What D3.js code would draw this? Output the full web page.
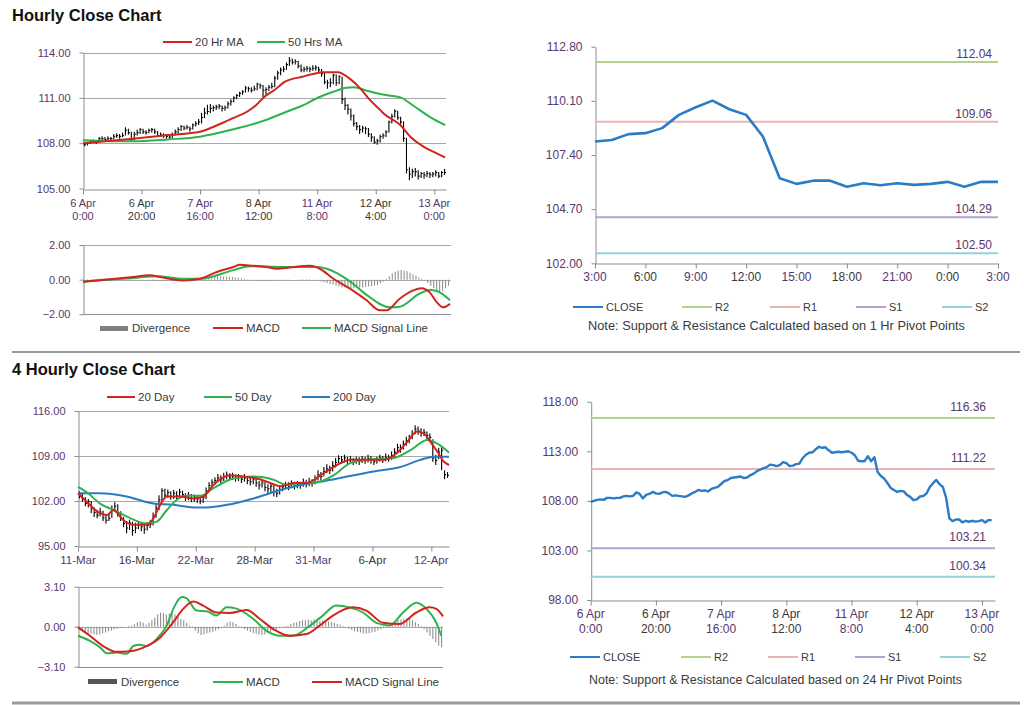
<!DOCTYPE html>
<html><head><meta charset="utf-8">
<script src="https://cdn.jsdelivr.net/npm/d3@7"></script>
<style>body{margin:0;background:#fff;}svg text{font-family:"Liberation Sans",Arial,sans-serif;}</style>
</head><body><script>
// ---------------- DATA ----------------
// Hourly bars (index 0 = 6 Apr 0:00 ... 123 = 13 Apr 3:00)
const hourlyClose = [
107.9,108.0,108.1,108.15,108.1,108.3,108.3,108.25,108.3,108.3,
108.45,108.5,108.45,108.5,108.85,108.7,108.25,108.6,108.7,108.9,
108.75,108.7,108.85,108.9,108.75,108.5,108.55,108.5,108.45,108.4,
108.55,108.75,108.9,109.1,109.0,109.05,108.95,109.2,109.3,109.4,
109.7,110.0,110.1,110.3,110.35,110.4,110.45,110.3,110.35,110.6,
110.75,111.0,111.15,111.3,111.4,111.65,111.6,111.5,111.6,111.9,
111.8,111.5,111.55,111.7,111.75,112.3,112.65,112.85,112.9,113.2,
113.45,113.35,113.4,113.1,112.85,112.9,112.95,112.9,112.95,113.0,
112.85,112.6,112.05,112.0,112.0,112.5,112.0,112.4,110.9,110.5,
110.25,109.8,109.3,109.1,108.9,109.0,108.95,108.6,108.4,108.07,
108.15,108.44,108.49,108.74,109.4,109.78,110.11,109.68,109.4,108.32,
106.24,105.96,106.12,106.12,105.82,105.99,105.89,105.99,105.91,105.96,
106.06,105.82,106.06,106.06];
const hourlyHigh = [
108.05,108.1,108.2,108.25,108.2,108.4,108.45,108.4,108.45,108.4,
108.6,108.65,108.6,108.7,109.05,108.95,108.75,108.75,108.9,109.0,
108.95,108.85,108.95,109.0,108.95,108.8,108.7,108.65,108.6,108.55,
108.7,108.9,109.05,109.2,109.15,109.2,109.1,109.3,109.45,109.6,
110.0,110.35,110.55,110.6,110.5,110.55,110.6,110.5,110.5,110.75,
110.9,111.1,111.25,111.4,111.5,111.8,111.75,111.7,111.8,112.0,
111.95,111.85,111.7,111.85,112.0,112.45,112.8,113.0,113.1,113.35,
113.7,113.6,113.55,113.45,113.2,113.05,113.1,113.05,113.15,113.15,
113.05,112.9,112.65,112.2,112.3,112.6,112.55,112.5,112.4,111.0,
110.6,110.3,109.9,109.4,109.2,109.15,109.1,109.0,108.65,108.45,
108.3,108.55,108.65,108.85,109.5,109.95,110.25,110.15,109.75,109.45,
108.35,106.4,106.3,106.35,106.2,106.1,106.1,106.15,106.1,106.1,
106.2,106.1,106.15,106.3];
const hourlyLow = [
107.8,107.85,107.95,108.0,107.95,108.05,108.2,108.1,108.15,108.2,
108.25,108.35,108.3,108.4,108.5,108.55,108.1,108.2,108.5,108.6,
108.6,108.55,108.65,108.7,108.6,108.4,108.4,108.35,108.3,108.3,
108.35,108.5,108.65,108.8,108.85,108.9,108.75,108.9,109.1,109.2,
109.3,109.65,109.9,110.0,110.1,110.2,110.25,110.1,110.15,110.3,
110.5,110.7,110.9,111.05,111.2,111.35,111.4,111.35,111.45,111.5,
111.6,111.0,111.2,111.45,111.6,111.7,112.2,112.5,112.7,112.85,
113.1,113.2,113.2,112.95,112.7,112.7,112.75,112.7,112.8,112.8,
112.65,112.4,111.9,111.6,111.7,111.9,111.8,111.9,110.6,110.2,
109.9,109.5,109.1,108.85,108.6,108.7,108.6,108.4,108.1,107.95,
107.9,108.05,108.3,108.4,108.7,109.3,109.7,109.55,109.2,108.1,
106.0,105.55,105.7,105.8,105.6,105.7,105.65,105.75,105.7,105.75,
105.8,105.7,105.75,105.9];
// moving averages read at [hour index, value]
const ma20Hr = [[0,108.0],[17,108.3],[29,108.54],[40,108.76],[46,109.2],[51,109.64],[56,110.08],[59,110.5],[62,111.07],[66,111.6],[69,112.07],[75,112.4],[79,112.6],[82,112.7],[87,112.7],[91,112.29],[94.7,111.63],[98,110.86],[101.5,110.2],[102.6,109.98],[108.4,109.2],[111.8,108.43],[116.3,107.77],[119.6,107.44],[123.7,107.06]];
const ma50Hr = [[0,108.2],[17,108.12],[29,108.25],[40,108.43],[51,108.9],[62.5,109.53],[69.5,110.08],[74,110.41],[81,111.07],[85.5,111.4],[90,111.67],[92.4,111.7],[97,111.47],[103,111.2],[108.4,111.03],[113,110.46],[118.7,109.71],[123.7,109.2]];
const hourlyMacd = [[0,-0.13],[17,0.15],[22.6,0.25],[26,0.15],[33.9,-0.05],[39.5,0.05],[45.2,0.44],[50.8,0.73],[53,0.86],[57.5,0.8],[62,0.73],[65.4,0.63],[69.9,0.7],[76.7,0.8],[80,0.63],[84.6,0.05],[90.2,-0.52],[95.8,-1.19],[100.3,-1.77],[102.6,-1.77],[107,-1.1],[111.6,-0.62],[114.4,-0.5],[117.2,-0.75],[119.5,-1.3],[121.7,-1.6],[124,-1.4]];
const hourlySignal = [[0,-0.1],[17,0.1],[24.9,0.2],[33.9,0.05],[39.5,0.05],[50.8,0.55],[56.4,0.78],[67.7,0.73],[79,0.73],[82.4,0.63],[90.2,-0.1],[95.8,-0.88],[103.7,-1.6],[107,-1.56],[113.8,-0.8],[117.2,-0.6],[119.5,-0.65],[124,-1.19]];
const hourlyDivergence = [
0.02,0.03,0.03,0.04,0.05,0.05,0.06,0.06,0.05,0.05,
0.05,0.04,0.04,0.03,0.03,0.02,0.02,0.01,0,-0.02,
-0.03,-0.04,-0.05,-0.06,-0.07,-0.07,-0.08,-0.08,-0.07,-0.06,
-0.05,-0.05,-0.04,-0.03,-0.02,-0.01,0,0.02,0.05,0.08,
0.1,0.13,0.15,0.17,0.18,0.2,0.2,0.18,0.17,0.16,
0.15,0.13,0.11,0.08,0.05,0.02,-0.02,-0.04,-0.05,-0.05,
-0.06,-0.06,-0.05,-0.05,-0.04,-0.03,-0.03,-0.02,-0.02,-0.02,
-0.01,0,0.01,0.02,0.03,0.03,0.02,0,-0.03,-0.06,
-0.1,-0.15,-0.2,-0.25,-0.3,-0.35,-0.4,-0.45,-0.45,-0.48,
-0.5,-0.5,-0.48,-0.46,-0.45,-0.42,-0.4,-0.38,-0.35,-0.3,
-0.2,-0.1,0.05,0.2,0.35,0.45,0.52,0.55,0.52,0.48,
0.4,0.3,0.22,0.12,0.05,-0.05,-0.2,-0.35,-0.5,-0.6,
-0.7,-0.65,-0.5,-0.35];
const hourlyTickLabels = [["6 Apr","0:00"],["6 Apr","20:00"],["7 Apr","16:00"],["8 Apr","12:00"],["11 Apr","8:00"],["12 Apr","4:00"],["13 Apr","0:00"]];
const lastDayStart = 99; // 12 Apr 3:00
const lastDayTickLabels = ["3:00","6:00","9:00","12:00","15:00","18:00","21:00","0:00","3:00"];
const pivotNames = ["R2","R1","S1","S2"];
const hourPivots = [112.04,109.06,104.29,102.50];
const dayPivots = [116.36,111.22,103.21,100.34];

// 4-hourly bars (index 0 = 11-Mar)
const fourHrClose = [
103.0,102.4,101.6,101.9,100.8,100.2,99.8,100.3,99.4,99.0,
99.3,100.6,101.2,100.1,99.4,98.5,97.8,98.6,97.4,97.8,
98.3,98.0,97.6,98.2,98.4,99.6,100.9,102.2,103.6,102.9,
103.3,102.7,103.2,102.8,103.4,103.0,102.6,102.9,102.4,102.6,
102.3,102.0,102.5,103.6,104.4,104.9,105.2,105.6,105.3,105.8,
106.0,105.7,105.9,105.5,105.7,105.4,105.6,105.2,105.0,105.3,
104.8,104.5,104.8,104.1,103.9,104.3,103.5,103.2,103.8,104.2,
104.5,104.3,104.7,104.4,104.6,104.5,104.9,104.7,105.0,104.8,
105.4,106.1,105.8,106.6,107.0,106.8,107.5,108.0,108.6,108.4,
108.7,108.3,108.5,108.1,108.4,108.2,108.5,108.3,108.6,108.4,
108.1,108.4,108.7,108.5,108.8,108.6,109.1,109.6,110.3,110.1,
110.8,111.4,111.7,112.4,113.2,112.9,112.6,112.7,112.2,111.9,
108.7,108.3,109.6,109.9,106.1,106.0];
const fourHrHigh = [
103.5,103.1,102.6,102.3,102.0,101.0,100.6,100.9,100.5,99.8,
100.1,101.3,101.8,101.5,100.4,99.5,98.9,99.1,98.8,98.6,
98.9,98.7,98.4,98.7,99.0,100.2,101.5,102.9,104.0,103.9,
103.8,103.5,103.7,103.5,103.9,103.6,103.2,103.4,103.1,103.0,
102.9,102.6,103.0,104.1,104.9,105.4,105.7,106.2,106.0,106.4,
106.6,106.3,106.4,106.1,106.2,106.0,106.2,105.8,105.6,105.8,
105.5,105.1,105.3,104.9,104.6,104.8,104.4,103.9,104.3,104.8,
105.0,104.9,105.2,105.0,105.1,105.0,105.5,105.3,105.6,105.4,
106.0,106.8,106.5,107.3,107.7,107.5,108.2,108.7,109.1,109.0,
109.2,108.9,109.0,108.7,108.9,108.8,109.0,108.9,109.2,109.0,
108.7,108.9,109.2,109.0,109.4,109.2,109.7,110.2,110.9,110.8,
111.4,112.0,112.3,113.0,113.8,113.6,113.3,113.2,112.8,112.5,
111.6,109.2,110.3,110.4,106.8,106.5];
const fourHrLow = [
102.4,101.9,101.2,101.0,100.1,99.5,99.3,99.6,98.9,98.5,
98.9,99.4,100.4,99.6,98.9,97.9,97.0,97.5,96.6,97.0,
97.6,97.3,96.9,97.4,97.8,98.2,99.4,100.6,102.0,102.4,
102.5,102.2,102.3,102.2,102.6,102.5,102.0,102.1,101.8,101.9,
101.7,101.5,101.7,102.3,103.4,104.1,104.6,104.9,104.8,105.1,
105.4,105.2,105.3,105.0,105.1,104.8,105.0,104.6,104.4,104.6,
104.2,103.8,104.1,103.5,103.2,103.4,102.7,102.6,103.0,103.5,
103.9,103.7,104.0,103.8,104.0,103.9,104.2,104.1,104.3,104.2,
104.6,105.2,105.2,105.8,106.3,106.2,106.6,107.2,107.9,107.8,
108.0,107.7,107.9,107.6,107.8,107.6,107.9,107.8,108.0,107.8,
107.6,107.8,108.1,107.9,108.2,108.1,108.4,108.9,109.5,109.5,
110.0,110.6,111.0,111.6,112.4,112.3,112.0,112.1,111.6,111.2,
108.1,107.6,108.5,106.8,105.4,105.6];
const ma20Day = [[0,103.2],[2.9,101.9],[7.5,100.1],[9.8,99.8],[12,100.6],[15.4,99.0],[18.8,98.3],[23.4,98.3],[25.6,99.3],[27.9,101.4],[30.2,102.7],[34.7,102.7],[39.2,102.4],[42.6,102.7],[46,104.5],[51.7,106.0],[56.2,105.8],[60.8,105.5],[65.3,104.8],[68.7,104.3],[73.2,104.8],[77.8,104.8],[82.3,106.0],[86.8,107.3],[90.2,108.1],[92.5,108.4],[103.9,108.4],[108.4,109.5],[111.8,111.2],[115.2,112.8],[117.5,112.5],[119.7,111.2],[122,109.7],[124.3,108.1],[126,107.6]];
const ma50Day = [[0,104.2],[2.9,103.4],[7.5,101.6],[12,100.6],[16.5,99.6],[23.4,98.5],[26.8,98.8],[30.2,100.6],[33.6,102.2],[37,102.8],[41.5,102.8],[46,104.0],[52.8,105.5],[59.6,105.8],[66.4,105.3],[71,104.5],[75.5,104.8],[81.2,104.9],[86.8,106.0],[92.5,107.9],[98.2,108.4],[107.3,108.7],[112.9,109.9],[118.6,111.5],[120.9,111.2],[124.3,110.2],[126,109.5]];
const ma200Day = [[0,103.2],[7.5,103.2],[16.5,102.7],[25.6,101.6],[32.4,101.4],[39.2,101.0],[43.8,101.0],[50.6,101.4],[59.6,102.4],[68.7,103.7],[75.5,104.5],[82.3,105.0],[91.4,105.8],[100.4,106.6],[109.5,107.3],[116.3,108.4],[120.9,108.9],[126,108.9]];
const fourHrMacd = [[0,-0.7],[4.1,-1.1],[7.6,-1.6],[9.9,-2.06],[13.3,-2.0],[16.8,-2.1],[19.1,-1.5],[21.4,-1.4],[23.7,-1.5],[27.1,-0.96],[30.6,0.08],[32.9,1.38],[35.8,2.3],[37.5,2.2],[40.9,1.25],[44.4,1.2],[47.8,0.86],[51.3,1.5],[54.7,1.4],[60.5,0.6],[65,-0.3],[69.7,-0.7],[74.1,-0.7],[79.9,0.05],[84.5,0.86],[89.1,1.64],[93.7,1.5],[98.4,1.1],[103,0.3],[107.6,0.1],[112.2,1.1],[116.8,1.85],[120.2,1.4],[123.7,0.3],[125.4,-0.7]];
const fourHrSignal = [[0,-0.05],[4.1,-0.7],[8.7,-1.5],[13.3,-1.95],[17.9,-1.9],[23.7,-1.5],[28.3,-0.85],[32.9,0.35],[36.3,1.38],[39.8,1.95],[43.2,1.64],[47.8,1.1],[52.4,1.07],[58.2,1.3],[62.8,0.6],[67.4,-0.18],[73.1,-0.7],[78.9,-0.57],[83.4,0.08],[88,0.86],[94.9,1.5],[99.5,1.25],[105.3,0.3],[111,0.2],[116.8,1.1],[121.4,1.5],[123.7,1.38],[126,0.8]];
const fourHrDivergence = [
-0.1,-0.3,-0.45,-0.5,-0.55,-0.6,-0.65,-0.6,-0.5,-0.45,
-0.35,-0.3,-0.2,-0.15,-0.1,-0.05,0,0.05,0.1,0.2,
0.35,0.4,0.3,0.15,0.3,0.5,0.7,0.95,1.1,1.05,
0.95,1.0,1.05,0.95,0.8,0.6,0.5,0.3,0.1,-0.1,
-0.3,-0.5,-0.65,-0.6,-0.5,-0.45,-0.4,-0.3,-0.2,-0.1,
0.1,0.3,0.4,0.35,0.2,0.05,-0.1,-0.2,-0.3,-0.4,
-0.5,-0.55,-0.6,-0.65,-0.6,-0.5,-0.4,-0.3,-0.2,-0.1,
-0.05,0.05,0.1,0.2,0.3,0.35,0.45,0.5,0.5,0.55,
0.5,0.55,0.5,0.45,0.5,0.45,0.4,0.35,0.3,0.2,
0.15,0.05,-0.05,-0.15,-0.25,-0.35,-0.4,-0.45,-0.5,-0.55,
-0.5,-0.45,-0.4,-0.3,-0.2,-0.1,0.05,0.15,0.3,0.4,
0.5,0.55,0.6,0.65,0.6,0.5,0.35,0.2,0.05,-0.2,
-0.45,-0.7,-0.95,-1.2,-1.45,-1.6];
const fourHrTickLabels = ["11-Mar","16-Mar","22-Mar","28-Mar","31-Mar","6-Apr","12-Apr"];

// ---------------- DRAWING ----------------
const FONT = '"Liberation Sans", Arial, sans-serif';
const LBL = "#58386a", TXT = "#3a3a3a", AX = "#8c8c8c", GRID = "#a8a8a8";
const RED = "#d3231d", GREEN = "#2db24f", BLUE = "#2b7bc3", CLOSE = "#2a7cc6";
const PIVC = ["#b4d18e", "#e9b5b4", "#b3a3ce", "#93d0df"];
const svg = d3.select("body").append("svg").attr("width", 1024).attr("height", 705);

function text(x, y, s, o = {}) {
  return svg.append("text").attr("x", x).attr("y", y).text(s)
    .attr("font-size", o.size || 11).attr("fill", o.fill || TXT)
    .attr("text-anchor", o.anchor || "start").attr("font-weight", o.weight || "normal");
}
function hline(x1, x2, y, color, w) {
  svg.append("line").attr("x1", x1).attr("x2", x2).attr("y1", y).attr("y2", y)
    .attr("stroke", color).attr("stroke-width", w || 1);
}
function grid(y, x0, x1, vals) { vals.forEach(v => hline(x0, x1, Math.round(y(v)) + 0.5, GRID, 1)); }
function yAxis(y, x0, vals, fmt, size) {
  const g = svg.append("g").attr("transform", `translate(${x0 + 0.5},0)`)
    .call(d3.axisLeft(y).tickValues(vals).tickFormat(fmt).tickSize(4).tickSizeOuter(0).tickPadding(9));
  g.attr("font-family", FONT).attr("font-size", size);
  g.select(".domain").attr("stroke", AX);
  g.selectAll(".tick line").attr("stroke", AX);
  g.selectAll(".tick text").attr("fill", LBL);
}
function xAxis(x, yb, vals, labels, size, lineGap) {
  const g = svg.append("g").attr("transform", `translate(0,${Math.round(yb) + 0.5})`)
    .call(d3.axisBottom(x).tickValues(vals).tickFormat("").tickSize(5).tickSizeOuter(0));
  g.select(".domain").attr("stroke", AX);
  g.selectAll(".tick line").attr("stroke", AX);
  vals.forEach((v, i) => {
    const lab = Array.isArray(labels[i]) ? labels[i] : [labels[i]];
    lab.forEach((s, k) => text(x(v), yb + 18 + k * lineGap, s, { size, anchor: "middle", fill: i % 2 ? TXT : LBL }));
  });
}
function legendLine(x1, x2, y, color, label, tx, size) {
  hline(x1, x2, y, color, 2);
  text(tx, y + 4, label, { size: size || 11.5 });
}
function bars(x, y, hi, lo, cl) {
  const g = svg.append("g").attr("stroke", "#000").attr("stroke-width", 1.1);
  hi.forEach((h, i) => {
    const cx = x(i + 0.5);
    g.append("line").attr("x1", cx).attr("x2", cx).attr("y1", y(lo[i])).attr("y2", y(h));
    g.append("line").attr("x1", cx).attr("x2", cx + 1.5).attr("y1", y(cl[i])).attr("y2", y(cl[i]));
  });
}
function curve(x, y, pts, color, w) {
  svg.append("path").datum(pts).attr("fill", "none").attr("stroke", color).attr("stroke-width", w || 2)
    .attr("stroke-linejoin", "round")
    .attr("d", d3.line().x(d => x(d[0])).y(d => y(d[1])).curve(d3.curveMonotoneX));
}
function histogram(x, y, vals, color, w) {
  const g = svg.append("g").attr("stroke", color).attr("stroke-width", w);
  vals.forEach((v, i) => {
    g.append("line").attr("x1", x(i + 0.5)).attr("x2", x(i + 0.5)).attr("y1", y(0)).attr("y2", y(v));
  });
}

// ===== Titles & dividers =====
text(12, 21, "Hourly Close Chart", { size: 16.5, weight: "bold", fill: "#111" });
text(12, 375, "4 Hourly Close Chart", { size: 16.5, weight: "bold", fill: "#111" });
hline(12, 1020, 352, "#9a9a9a", 2);
hline(12, 1020, 703, "#9a9a9a", 3);

// ===== Panel 1: hourly price =====
{
  const x = d3.scaleLinear().domain([0, 124]).range([83, 446]);
  const y = d3.scaleLinear().domain([105, 114]).range([188.5, 52.5]);
  grid(y, 83, 446, [108, 111, 114]);
  yAxis(y, 83, [105, 108, 111, 114], d3.format(".2f"), 11);
  xAxis(x, y(105), [0, 20, 40, 60, 80, 100, 120], hourlyTickLabels, 11, 13.5);
  bars(x, y, hourlyHigh, hourlyLow, hourlyClose);
  curve(x, y, ma50Hr, GREEN, 2);
  curve(x, y, ma20Hr, RED, 2);
  legendLine(163, 192, 42, RED, "20 Hr MA", 195);
  legendLine(257, 285, 42, GREEN, "50 Hrs MA", 288);
}
// ===== Panel 2: hourly MACD =====
{
  const x = d3.scaleLinear().domain([0, 124]).range([83, 450]);
  const y = d3.scaleLinear().domain([-2, 2]).range([314.3, 245]);
  grid(y, 83, 451, [0, 2]);
  yAxis(y, 83, [-2, 0, 2], d3.format(".2f"), 11);
  hline(83, 451, Math.round(y(-2)) + 0.5, AX, 1);
  histogram(x, y, hourlyDivergence, "#8f8f8f", 1.1);
  curve(x, y, hourlySignal, GREEN, 2);
  curve(x, y, hourlyMacd, RED, 2);
  svg.append("rect").attr("x", 100).attr("y", 326).attr("width", 28).attr("height", 5).attr("fill", "#7f7f7f");
  text(132, 332, "Divergence", { size: 11.5 });
  legendLine(213, 243, 328, RED, "MACD", 246);
  legendLine(302, 331, 328, GREEN, "MACD Signal Line", 334);
}
// ===== Panel 3: last 24 hours with pivots =====
{
  const x = d3.scaleLinear().domain([0, 24]).range([595, 998]);
  const y = d3.scaleLinear().domain([102, 112.8]).range([263.3, 46.7]);
  yAxis(y, 595, [102, 104.7, 107.4, 110.1, 112.8], d3.format(".2f"), 12);
  xAxis(x, y(102), [0, 3, 6, 9, 12, 15, 18, 21, 24], lastDayTickLabels, 12, 14);
  hourPivots.forEach((p, i) => {
    hline(595, 998, y(p), PIVC[i], 2);
    text(992, y(p) - 4, d3.format(".2f")(p), { size: 12, anchor: "end", fill: LBL });
  });
  const pts = hourlyClose.slice(lastDayStart, lastDayStart + 25).map((v, i) => [i, v]);
  svg.append("path").datum(pts).attr("fill", "none").attr("stroke", CLOSE).attr("stroke-width", 2.6)
    .attr("stroke-linejoin", "round").attr("d", d3.line().x(d => x(d[0])).y(d => y(d[1])));
  const lx = [606, 715, 803, 889, 975];
  legendLine(lx[0] - 33, lx[0] - 3, 307, CLOSE, "CLOSE", lx[0], 11);
  pivotNames.forEach((n, i) => legendLine(lx[i + 1] - 33, lx[i + 1] - 3, 307, PIVC[i], n, lx[i + 1], 11));
  text(588, 330, "Note: Support & Resistance Calculated based on 1 Hr Pivot Points", { size: 12 })
    .attr("textLength", 377).attr("lengthAdjust", "spacingAndGlyphs");
}
// ===== Panel 4: 4-hourly price =====
{
  const x = d3.scaleLinear().domain([0, 126]).range([78, 449]);
  const y = d3.scaleLinear().domain([95, 116]).range([546, 411]);
  grid(y, 78, 449, [102, 109, 116]);
  yAxis(y, 78, [95, 102, 109, 116], d3.format(".2f"), 11);
  xAxis(x, y(95), [0, 20, 40, 60, 80, 100, 120], fourHrTickLabels, 11.5, 0);
  bars(x, y, fourHrHigh, fourHrLow, fourHrClose);
  curve(x, y, ma200Day, BLUE, 2);
  curve(x, y, ma50Day, GREEN, 2);
  curve(x, y, ma20Day, RED, 2);
  legendLine(107, 135, 397, RED, "20 Day", 138);
  legendLine(204, 232, 397, GREEN, "50 Day", 235);
  legendLine(302, 330, 397, BLUE, "200 Day", 333);
}
// ===== Panel 5: 4-hourly MACD =====
{
  const x = d3.scaleLinear().domain([0, 126]).range([78, 443]);
  const y = d3.scaleLinear().domain([-3.1, 3.1]).range([666.7, 586.7]);
  grid(y, 78, 443, [0, 3.1]);
  yAxis(y, 78, [-3.1, 0, 3.1], d3.format(".2f"), 11);
  hline(78, 443, Math.round(y(-3.1)) + 0.5, AX, 1);
  histogram(x, y, fourHrDivergence, "#8f8f8f", 1.1);
  curve(x, y, fourHrMacd, GREEN, 2);
  curve(x, y, fourHrSignal, RED, 2);
  svg.append("rect").attr("x", 88).attr("y", 679).attr("width", 29).attr("height", 5).attr("fill", "#555");
  text(121, 686, "Divergence", { size: 11.5 });
  legendLine(213, 243, 682, GREEN, "MACD", 246);
  legendLine(312, 342, 682, RED, "MACD Signal Line", 345);
}
// ===== Panel 6: hourly close with daily pivots =====
{
  const x = d3.scaleLinear().domain([0, 124]).range([590.7, 995]);
  const y = d3.scaleLinear().domain([98, 118]).range([600, 401.7]);
  yAxis(y, 590.7, [98, 103, 108, 113, 118], d3.format(".2f"), 12);
  xAxis(x, y(98), [0, 20, 40, 60, 80, 100, 120], hourlyTickLabels, 12, 15);
  dayPivots.forEach((p, i) => {
    hline(590.7, 995, y(p), PIVC[i], 2);
    text(986, y(p) - 7, d3.format(".2f")(p), { size: 12, anchor: "end", fill: LBL });
  });
  const pts = hourlyClose.map((v, i) => [i, v]);
  svg.append("path").datum(pts).attr("fill", "none").attr("stroke", CLOSE).attr("stroke-width", 2.4)
    .attr("stroke-linejoin", "round").attr("d", d3.line().x(d => x(d[0])).y(d => y(d[1])));
  const lx = [603, 714, 801, 888, 973];
  legendLine(lx[0] - 33, lx[0] - 3, 657, CLOSE, "CLOSE", lx[0], 11);
  pivotNames.forEach((n, i) => legendLine(lx[i + 1] - 33, lx[i + 1] - 3, 657, PIVC[i], n, lx[i + 1], 11));
  text(589, 684, "Note:  Support & Resistance Calculated based on 24 Hr Pivot Points", { size: 12 })
    .attr("textLength", 373).attr("lengthAdjust", "spacingAndGlyphs");
}
</script></body></html>
